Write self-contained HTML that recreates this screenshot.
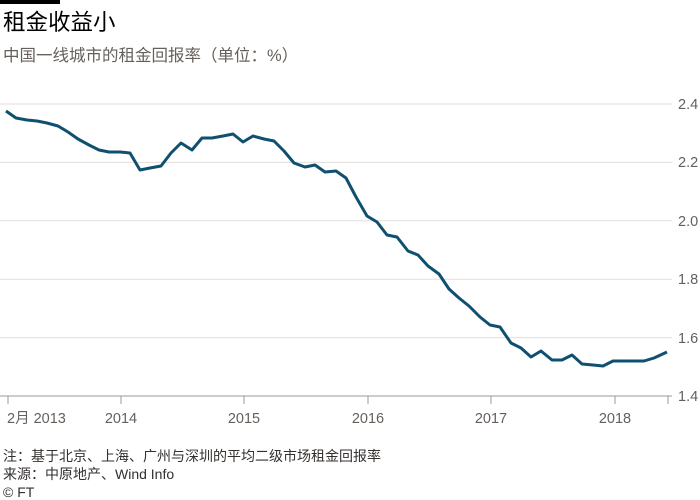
<!DOCTYPE html>
<html><head><meta charset="utf-8"><style>
body{margin:0;width:700px;height:500px;background:#fff;overflow:hidden;font-family:"Liberation Sans","Noto Sans CJK SC",sans-serif}
svg{position:absolute;left:0;top:0}
</style></head><body>
<svg width="700" height="500" xmlns="http://www.w3.org/2000/svg" font-family="Liberation Sans, Noto Sans CJK SC, sans-serif">
<rect x="0" y="0" width="60" height="4" fill="#000"/>
<text x="3" y="30" font-size="22.5" fill="#000">租金收益小</text>
<text x="3" y="61" font-size="16.5" fill="#66605c">中国一线城市的租金回报率（单位：%）</text>
<g stroke="#e2dedb" stroke-width="1">
<line x1="0" y1="104" x2="672" y2="104"/>
<line x1="0" y1="162.4" x2="672" y2="162.4"/>
<line x1="0" y1="220.8" x2="672" y2="220.8"/>
<line x1="0" y1="279.2" x2="672" y2="279.2"/>
<line x1="0" y1="337.6" x2="672" y2="337.6"/>
</g>
<line x1="0" y1="396" x2="672" y2="396" stroke="#999" stroke-width="1"/>
<g stroke="#999" stroke-width="1">
<line x1="8" y1="396" x2="8" y2="404"/>
<line x1="121" y1="396" x2="121" y2="404"/>
<line x1="244" y1="396" x2="244" y2="404"/>
<line x1="368" y1="396" x2="368" y2="404"/>
<line x1="491" y1="396" x2="491" y2="404"/>
<line x1="615" y1="396" x2="615" y2="404"/>
<line x1="668" y1="396" x2="668" y2="404"/>
</g>
<g font-size="14.5" fill="#66605c">
<text x="678" y="109">2.4</text>
<text x="678" y="167">2.2</text>
<text x="678" y="226">2.0</text>
<text x="678" y="284">1.8</text>
<text x="678" y="343">1.6</text>
<text x="678" y="401">1.4</text>
<text x="7" y="423">2月 2013</text>
<text x="121" y="423" text-anchor="middle">2014</text>
<text x="244" y="423" text-anchor="middle">2015</text>
<text x="368" y="423" text-anchor="middle">2016</text>
<text x="491" y="423" text-anchor="middle">2017</text>
<text x="615" y="423" text-anchor="middle">2018</text>
</g>
<polyline fill="none" stroke="#0f5070" stroke-width="3" stroke-linejoin="round" points="6,111 16,118 27,120 37,121 47,123 58,126 68,132 78,139 89,145 99,150 109,152 120,152 130,153 140,170 150,168 161,166 171,153 181,143 192,150 202,138 212,138 223,136 233,134 243,142 253,136 264,139 274,141 284,151 294,163 305,167 315,165 325,172 336,171 346,178 356,197 367,216 377,222 387,235 397,237 408,251 418,255 428,266 439,274 449,289 459,298 469,306 480,317 490,325 500,327 511,343 521,348 531,357 541,351 552,360 562,360 572,355 582,364 593,365 603,366 613,361 623,361 634,361 644,361 654,358 667,352"/>
<g font-size="14" fill="#33302e">
<text x="3" y="461">注：基于北京、上海、广州与深圳的平均二级市场租金回报率</text>
<text x="3" y="479">来源：中原地产、Wind Info</text>
<text x="3" y="497">© FT</text>
</g>
</svg>
</body></html>
